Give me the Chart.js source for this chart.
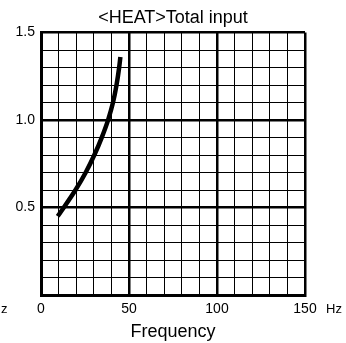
<!DOCTYPE html>
<html>
<head>
<meta charset="utf-8">
<script src="https://cdn.jsdelivr.net/npm/chart.js@4.4.1/dist/chart.umd.min.js"></script>
<style>
  html, body { margin: 0; padding: 0; background: #fff; }
  #wrap { width: 346px; height: 343px; }
</style>
</head>
<body>
<div id="wrap"><canvas id="heatChart" width="346" height="343"></canvas></div>
<script>
const freqHz = [9.5, 19.6, 25.4, 30.3, 34.5, 38.1, 40.9, 42.9, 44.4, 45.1];
const totalInput = [0.45, 0.6, 0.7, 0.8, 0.9, 1.0, 1.1, 1.2, 1.3, 1.36];
const xTickLabels = [0, 50, 100, 150];
const yTickLabels = [0.5, 1.0, 1.5];
const unitLabel = 'Hz';

const FONT = "'Liberation Sans', Arial, sans-serif";
const TICK_SIZE = 14;

// "Hz" beside the frequency tick labels (the left one runs off the canvas edge)
const unitText = {
  id: 'unitText',
  afterDraw(chart) {
    const { ctx, scales: { x } } = chart;
    const y = x.top + 6 + TICK_SIZE / 2 + 1;
    ctx.save();
    ctx.fillStyle = '#000';
    ctx.font = (TICK_SIZE - 1) + 'px ' + FONT;
    ctx.textBaseline = 'middle';
    ctx.textAlign = 'left';
    ctx.fillText(unitLabel, x.right + 21, y);
    ctx.textAlign = 'right';
    ctx.fillText(unitLabel, 7.5, y);
    ctx.restore();
  }
};

const majorX = v => v % 50 === 0;
const majorY = v => Math.round(v * 10) % 5 === 0;

const ctx = document.getElementById('heatChart').getContext('2d');
new Chart(ctx, {
  type: 'line',
  data: {
    datasets: [{
      data: freqHz.map((f, i) => ({ x: f, y: totalInput[i] })),
      borderColor: '#000',
      borderWidth: 4.5,
      pointRadius: 0,
      cubicInterpolationMode: 'monotone',
      fill: false
    }]
  },
  options: {
    responsive: false,
    animation: false,
    layout: { padding: 0 },
    plugins: {
      legend: { display: false },
      tooltip: { enabled: false },
      title: {
        display: true,
        text: '<HEAT>Total input',
        color: '#000',
        font: { family: FONT, size: 18, weight: 'normal' },
        padding: { top: 7, bottom: 4 }
      }
    },
    scales: {
      x: {
        type: 'linear',
        min: 0,
        max: 150,
        afterFit: s => { s.height = 48; },
        border: { color: '#000', width: 3 },
        grid: {
          color: '#000',
          drawTicks: false,
          lineWidth: c => majorX(c.tick.value) ? 2.5 : 1
        },
        ticks: {
          stepSize: 10,
          autoSkip: false,
          maxRotation: 0,
          padding: 6,
          color: '#000',
          font: { family: FONT, size: TICK_SIZE },
          callback: v => xTickLabels.includes(v) ? String(v) : ''
        },
        title: {
          display: true,
          text: 'Frequency',
          color: '#000',
          font: { family: FONT, size: 18 },
          padding: { top: 0, bottom: 0 }
        }
      },
      y: {
        min: 0,
        max: 1.5,
        afterFit: s => { s.width = 41; },
        border: { color: '#000', width: 3 },
        grid: {
          color: '#000',
          drawTicks: false,
          lineWidth: c => majorY(c.tick.value) ? 2.5 : 1
        },
        ticks: {
          stepSize: 0.1,
          autoSkip: false,
          padding: 6,
          color: '#000',
          font: { family: FONT, size: TICK_SIZE },
          callback: v => yTickLabels.some(t => Math.abs(t - v) < 1e-6) ? v.toFixed(1) : ''
        }
      },
      // empty right-hand axis, only reserves the margin where "Hz" sits
      yRight: {
        position: 'right',
        min: 0,
        max: 1.5,
        afterFit: s => { s.width = 41; },
        border: { display: false },
        grid: { drawOnChartArea: false, drawTicks: false },
        ticks: { display: false }
      }
    }
  },
  plugins: [unitText]
});
</script>
</body>
</html>
